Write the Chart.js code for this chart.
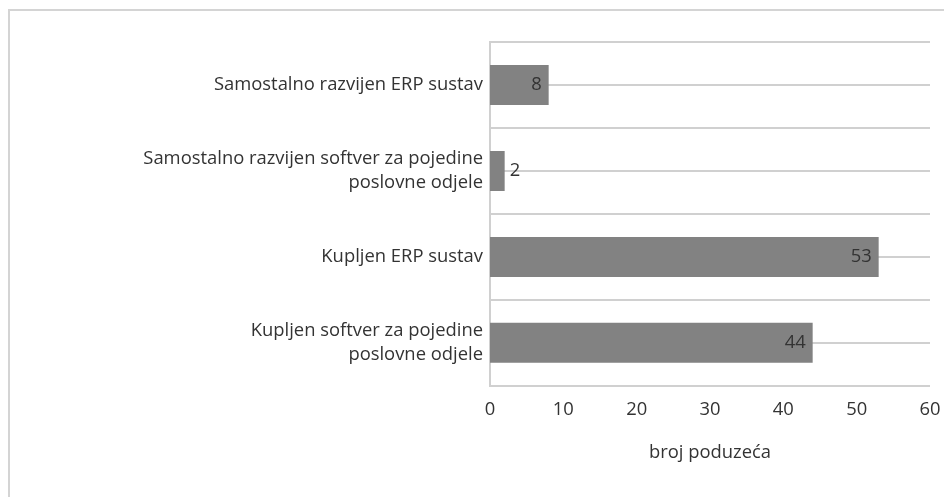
<!DOCTYPE html>
<html>
<head>
<meta charset="utf-8">
<script src="https://cdn.jsdelivr.net/npm/chart.js"></script>
<style>
  html, body { margin: 0; padding: 0; background: #fff; overflow: hidden; }
  #frame {
    position: absolute; left: 8px; top: 9px; width: 1000px; height: 600px;
    border-top: 2px solid #d4d4d4; border-left: 2px solid #d4d4d4;
  }
  #wrap { position: absolute; left: 0; top: 0; width: 944px; height: 497px; }
</style>
</head>
<body>
<div id="frame"></div>
<div id="wrap"><canvas id="chart"></canvas></div>
<script>
// categories and values
const categories = [
  "Samostalno razvijen ERP sustav",
  ["Samostalno razvijen softver za pojedine", "poslovne odjele"],
  "Kupljen ERP sustav",
  ["Kupljen softver za pojedine", "poslovne odjele"]
];
const counts = [8, 2, 53, 44];
const xTicks = [0, 10, 20, 30, 40, 50, 60];
const xTitle = "broj poduzeća";

const FONT = "'Open Sans'";
const FSIZE = 18.4;
const gridColor = "#d0d0d0";
const textColor = "#333333";

// value labels: inside end when they fit, otherwise just outside the bar
const barLabels = {
  id: "barLabels",
  afterDatasetsDraw(chart) {
    const ctx = chart.ctx;
    const meta = chart.getDatasetMeta(0);
    ctx.save();
    ctx.font = FSIZE + "px " + FONT;
    ctx.fillStyle = textColor;
    ctx.textBaseline = "middle";
    meta.data.forEach((bar, i) => {
      const txt = String(counts[i]);
      const w = ctx.measureText(txt).width;
      if (bar.x - bar.base > w + 14) {
        ctx.textAlign = "right";
        ctx.fillText(txt, bar.x - 7, bar.y);
      } else {
        ctx.textAlign = "left";
        ctx.fillText(txt, bar.x + 5, bar.y);
      }
    });
    ctx.restore();
  }
};

new Chart(document.getElementById("chart"), {
  type: "bar",
  data: {
    labels: categories,
    datasets: [{
      data: counts,
      backgroundColor: "#828282",
      barPercentage: 0.465,
      categoryPercentage: 1
    }]
  },
  plugins: [barLabels],
  options: {
    indexAxis: "y",
    responsive: true,
    maintainAspectRatio: false,
    animation: false,
    layout: { padding: { left: 0, top: 42, right: 14, bottom: 26 } },
    plugins: { legend: { display: false }, tooltip: { enabled: false } },
    scales: {
      x: {
        min: 0,
        max: 60,
        afterBuildTicks: (scale) => { scale.ticks = xTicks.map(v => ({ value: v })); },
        afterFit: (scale) => { scale.paddingLeft = 0; scale.paddingRight = 0; },
        grid: { display: false, drawTicks: false },
        border: { display: false },
        ticks: { color: textColor, font: { family: FONT, size: FSIZE }, padding: 13, maxRotation: 0 },
        title: {
          display: true, text: xTitle, color: textColor,
          font: { family: FONT, size: FSIZE }, padding: { top: 7.5, bottom: 7.5 }
        }
      },
      y: {
        offset: true,
        afterFit: (scale) => { scale.width = 490; },
        grid: { offset: true, color: gridColor, lineWidth: 2, drawTicks: false },
        border: { display: true, color: gridColor, width: 2 },
        ticks: {
          color: textColor, padding: 7,
          font: { family: FONT, size: FSIZE, lineHeight: 1.28 }
        }
      },
      y2: {
        type: "category",
        labels: categories,
        position: "left",
        offset: true,
        afterFit: (scale) => { scale.width = 0; },
        grid: { offset: false, color: gridColor, lineWidth: 2, drawTicks: false },
        border: { display: false },
        ticks: { display: false }
      }
    }
  }
});
</script>
</body>
</html>
